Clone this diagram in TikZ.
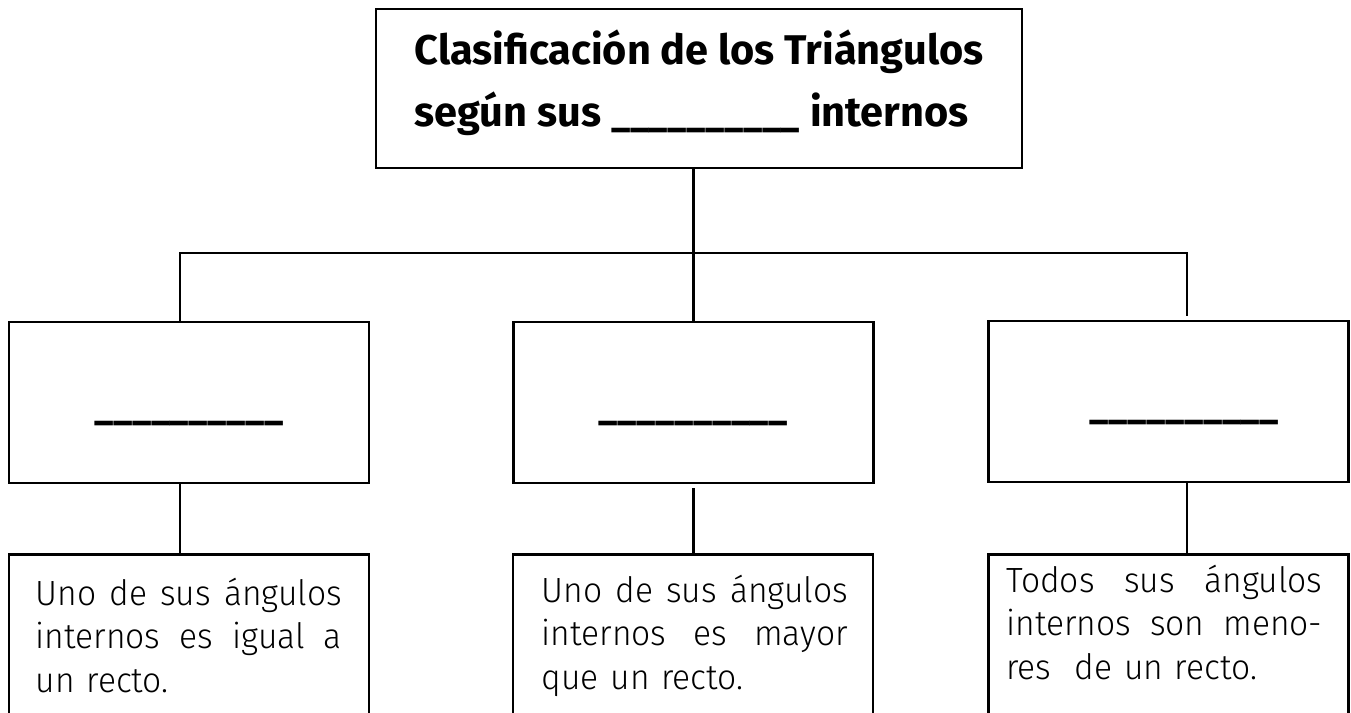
\documentclass[tikz,border=0pt]{standalone}
\usepackage{fontspec}
\setmainfont{Fira Sans Light}[FakeStretch=0.96]
\newfontfamily\boldfont{Fira Sans Bold}
\newcommand{\blank}{{\fontsize{37}{37}\selectfont\_\_\_\_\_\_\_\_\_\_}}
\newcommand{\jline}[2][306pt]{\makebox[#1][s]{\spaceskip=0pt\xspaceskip=0pt #2}}
\tikzset{
	conn/.style={line width=2.7pt},
	titlebox/.style={draw,line width=2.7pt,minimum width=646pt,minimum height=159pt,align=left,font=\boldfont\fontsize{41.5}{62}\selectfont},
	blankbox/.style={draw,line width=2.7pt,minimum width=360pt,minimum height=161pt,text height=33pt,text depth=0pt,font=\boldfont},
	descbox/.style={draw,line width=2.7pt,minimum width=360pt,minimum height=200pt,anchor=north},
	desctext/.style={anchor=base west,inner sep=0pt,align=left,font=\fontsize{35}{43.5}\selectfont}
}
\begin{document}
\begin{tikzpicture}[x=1pt,y=-1pt]
		\useasboundingbox (0,0) rectangle (1351,712);
		\node[titlebox] (titulo) at (699,88.5) {Clasificación de los Triángulos\\según sus \blank{} internos\rule[-21pt]{0pt}{21pt}};
		\node[blankbox] (b1) at (189,402.5) {\blank};
		\node[blankbox] (b2) at (693.5,402.5) {\blank};
		\node[blankbox] (b3) at (1168.5,401.5) {\hspace*{32pt}\blank};
		\node[descbox] (d1) at (189,553) {};
		\node[descbox] (d2) at (693,553) {};
		\node[descbox] (d3) at (1168.5,553) {};
		\node[desctext,text width=306pt] (t1) at ([xshift=28pt,yshift=-52pt]d1.north west)
			{\jline{Uno de sus ángulos}\\\jline{internos es igual a}\\un recto.};
		\node[desctext,text width=306pt] (t2) at ([xshift=30pt,yshift=-49pt]d2.north west)
			{\jline{Uno de sus ángulos}\\\jline{internos es mayor}\\que un recto.};
		\node[desctext,text width=316pt] (t3) at ([xshift=19pt,yshift=-39pt]d3.north west)
			{\jline[316pt]{Todos sus ángulos}\\\jline[316pt]{internos son meno-}\\res~ de un recto.};
		\coordinate (izq) at (180,253);
		\coordinate (der) at (1187,253);
		\draw[conn] (titulo.south -| b2.north) -- (b2.north);
		\draw[conn] (izq |- b1.north) -- (izq) -- (der) -- ([yshift=4pt]der |- b3.north);
		\draw[conn] (izq |- b1.south) -- (izq |- d1.north);
		\draw[conn] ([yshift=-4pt]b2.south) -- ([yshift=-3pt]b2.south |- d2.north);
		\draw[conn] (der |- b3.south) -- (der |- d3.north);
\end{tikzpicture}
\end{document}
